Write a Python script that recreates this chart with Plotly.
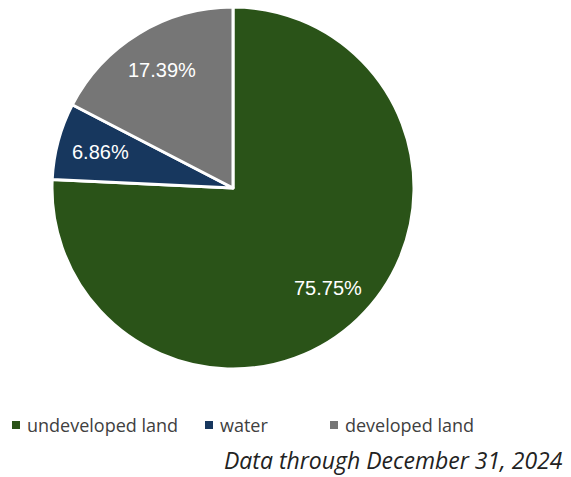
import math
import plotly.graph_objects as go

# Land cover shares
categories = ["undeveloped land", "water", "developed land"]
shares = [75.75, 6.86, 17.39]
colors = ["#2a5318", "#17375e", "#767676"]
footnote = "Data through December 31, 2024"

W, H = 571, 477
cx, cy, r = 233, 188, 181

fig = go.Figure(
    go.Pie(
        labels=categories,
        values=shares,
        sort=False,
        direction="clockwise",
        rotation=0,
        marker=dict(colors=colors, line=dict(color="white", width=3)),
        textinfo="none",
        hoverinfo="label+percent",
        showlegend=False,
        domain=dict(
            x=[(cx - r) / W, (cx + r) / W],
            y=[1 - (cy + r) / H, 1 - (cy - r) / H],
        ),
    )
)

# Value labels placed along each slice's bisector
total = sum(shares)
start = 0.0
label_r = 0.76 * r
for val in shares:
    span = val / total * 360
    mid = math.radians(start + span / 2)
    px = cx + label_r * math.sin(mid)
    py = cy - label_r * math.cos(mid)
    fig.add_annotation(
        text=f"{val:.2f}%",
        xref="paper", yref="paper",
        x=px / W, y=1 - py / H,
        xanchor="center", yanchor="middle",
        showarrow=False,
        font=dict(family="Liberation Sans, Arial, sans-serif", size=20, color="white"),
    )
    start += span

# Legend row: small colour square followed by the category name
legend_y = 425
legend_x = [12, 205, 330]
for name, col, lx in zip(categories, colors, legend_x):
    fig.add_shape(
        type="rect",
        xref="paper", yref="paper",
        x0=lx / W, x1=(lx + 8) / W,
        y0=1 - (legend_y + 4) / H, y1=1 - (legend_y - 4) / H,
        fillcolor=col, line=dict(width=0),
    )
    fig.add_annotation(
        text=name,
        xref="paper", yref="paper",
        x=(lx + 13) / W, y=1 - legend_y / H,
        xanchor="left", yanchor="middle",
        showarrow=False,
        font=dict(family="Open Sans, sans-serif", size=18, color="#404040"),
    )

fig.add_annotation(
    text=f"<i>{footnote}</i>",
    xref="paper", yref="paper",
    x=564 / W, y=1 - 460 / H,
    xanchor="right", yanchor="middle",
    showarrow=False,
    borderpad=0,
    font=dict(family="Open Sans, sans-serif", size=23, color="#222222"),
)

fig.update_layout(
    width=W, height=H,
    margin=dict(l=0, r=0, t=0, b=0),
    paper_bgcolor="white",
    plot_bgcolor="white",
    showlegend=False,
)

fig.write_html("out.html")
